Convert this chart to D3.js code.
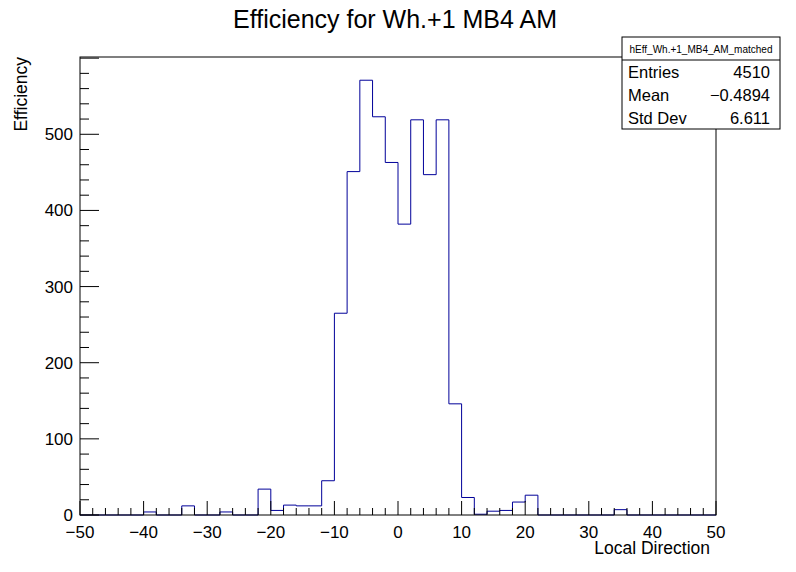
<!DOCTYPE html>
<html><head><meta charset="utf-8">
<script src="https://cdn.jsdelivr.net/npm/d3@7"></script>
<style>body{margin:0;background:#fff}text{font-family:"Liberation Sans",Arial,sans-serif}</style>
</head><body><div id="chart"></div>
<script>
// bin lower edges (width 2) and counts
var binEdges = [-40,-34,-28,-22,-20,-18,-16,-14,-12,-10,-8,-6,-4,-2,0,2,4,6,8,10,12,14,16,18,20,34];
var binCounts = [4,12,4,34,6,13,12,12,45,265,451,571,523,463,382,519,447,519,146,23,1,5,6,17,26,7];
var statLabels = ["Entries","Mean","Std Dev"];
var statValues = ["4510","\u22120.4894","6.611"];
var binWidth = 2;

var width = 796, height = 572;
var margin = {top: 57, right: 80, bottom: 57, left: 80};

var svg = d3.select("#chart").append("svg").attr("width", width).attr("height", height);

var x = d3.scaleLinear().domain([-50, 50]).range([margin.left, width - margin.right]);
var y = d3.scaleLinear().domain([0, 601.5]).range([height - margin.bottom, margin.top]);

// full step outline
var counts = d3.range(-50, 50, binWidth).map(function (e) {
    var i = binEdges.indexOf(e);
    return {x0: e, v: i >= 0 ? binCounts[i] : 0};
});
var d = "M" + x(-50) + "," + y(0);
counts.forEach(function (b) {
    d += "L" + x(b.x0) + "," + y(b.v) + "L" + x(b.x0 + binWidth) + "," + y(b.v);
});
d += "L" + x(50) + "," + y(0);
svg.append("path").attr("d", d).attr("fill", "none").attr("stroke", "#000099").attr("stroke-width", 1);

// frame
svg.append("rect").attr("x", x(-50)).attr("y", margin.top)
    .attr("width", x(50) - x(-50)).attr("height", y(0) - margin.top)
    .attr("fill", "none").attr("stroke", "#000");

// x ticks
d3.range(-50, 51, 2).forEach(function (t) {
    var major = t % 10 === 0;
    svg.append("line").attr("x1", x(t)).attr("x2", x(t))
        .attr("y1", y(0)).attr("y2", y(0) - (major ? 14 : 7)).attr("stroke", "#000");
    if (major) svg.append("text").attr("x", x(t)).attr("y", y(0) + 23)
        .attr("text-anchor", "middle").attr("font-size", 17).text(t < 0 ? "\u2212" + (-t) : t);
});
// y ticks
d3.range(0, 601, 20).forEach(function (t) {
    var major = t % 100 === 0;
    svg.append("line").attr("x1", x(-50)).attr("x2", x(-50) + (major ? 19 : 9))
        .attr("y1", y(t)).attr("y2", y(t)).attr("stroke", "#000");
    if (major && t < 600) svg.append("text").attr("x", x(-50) - 7).attr("y", y(t) + 6)
        .attr("text-anchor", "end").attr("font-size", 17).text(t);
});

svg.append("text").attr("x", 395).attr("y", 28).attr("text-anchor", "middle")
    .attr("font-size", 25).text("Efficiency for Wh.+1 MB4 AM");
svg.append("text").attr("x", 710).attr("y", 554).attr("text-anchor", "end")
    .attr("font-size", 17.5).text("Local Direction");
svg.append("text").attr("transform", "translate(27,57) rotate(-90)").attr("text-anchor", "end")
    .attr("font-size", 17.5).text("Efficiency");

// stats box
var bx = 622, by = 37, bw = 158, bh = 92;
svg.append("rect").attr("x", bx).attr("y", by).attr("width", bw).attr("height", bh)
    .attr("fill", "#fff").attr("stroke", "#000");
svg.append("line").attr("x1", bx).attr("x2", bx + bw).attr("y1", 60).attr("y2", 60).attr("stroke", "#000");
svg.append("text").attr("x", bx + bw / 2).attr("y", 53).attr("text-anchor", "middle")
    .attr("font-size", 10).text("hEff_Wh.+1_MB4_AM_matched");
statLabels.forEach(function (l, i) {
    var ty = 78 + i * 23;
    svg.append("text").attr("x", bx + 6).attr("y", ty).attr("font-size", 16.5).text(l);
    svg.append("text").attr("x", bx + bw - 10).attr("y", ty).attr("text-anchor", "end")
        .attr("font-size", 16.5).text(statValues[i]);
});
</script></body></html>
